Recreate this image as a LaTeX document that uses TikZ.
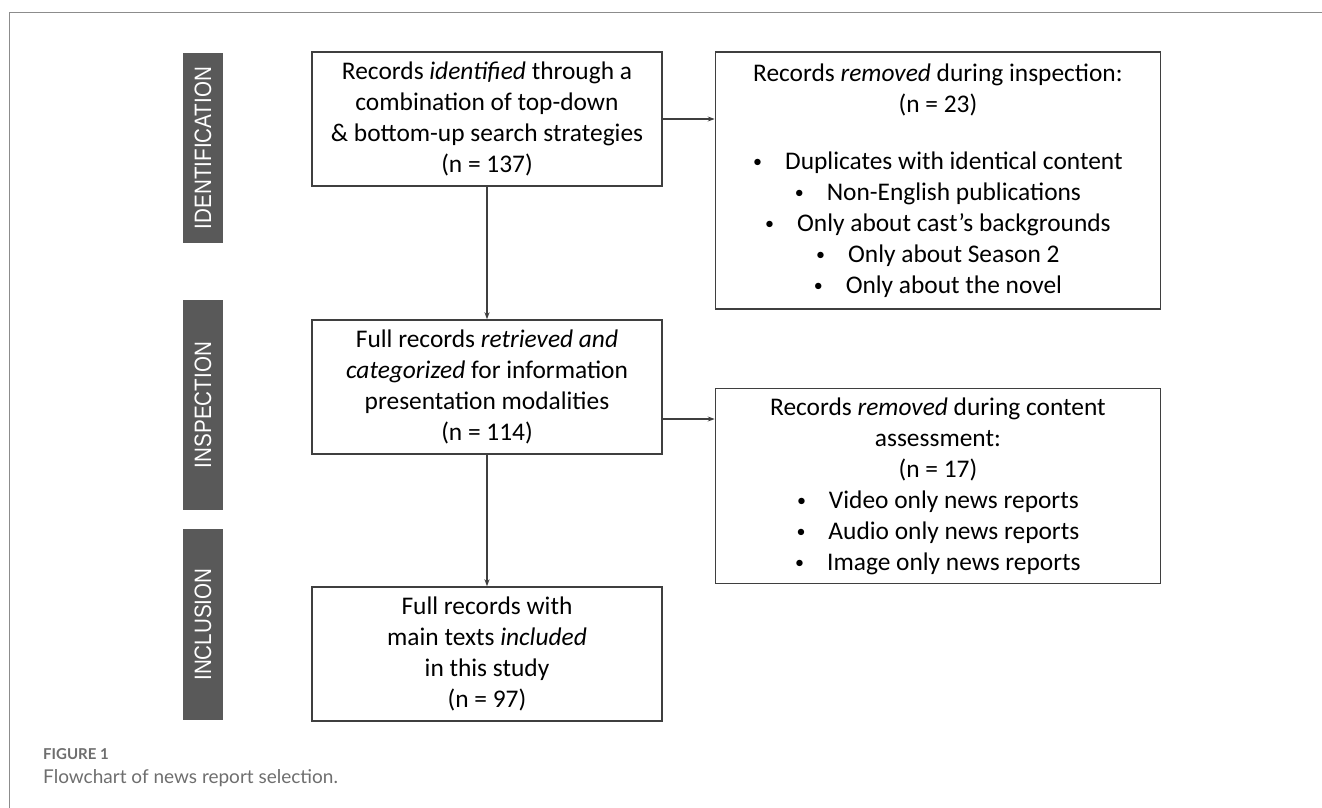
\documentclass[tikz,border=0pt]{standalone}
\usepackage{fontspec}
\setmainfont{Carlito}
\newfontfamily\barfont[FakeStretch=0.87]{Liberation Sans}
\newfontfamily\capfont{Lato}
\usepackage{tikz}
\usetikzlibrary{arrows.meta,positioning,calc}
\definecolor{bargray}{HTML}{595959}
\definecolor{linegray}{HTML}{3F3F3F}
\definecolor{framegray}{HTML}{8C8C8C}
\definecolor{captgray}{HTML}{6E6E6E}
\newcommand{\bul}{\raisebox{1.5pt}{\fontsize{18}{18}\selectfont\textbullet}\hspace{23pt}}

\begin{document}
\begin{tikzpicture}[
  x=1pt, y=-1pt,
  arr/.style={-{Stealth[length=7pt,width=5pt]}, line width=1.2pt, draw=linegray},
  box/.style={draw=linegray, line width=1.4pt, align=center, inner sep=0pt,
    font=\fontsize{25.4}{31}\selectfont},
  mainbox/.style={box, minimum width=350pt, minimum height=134pt},
  sidebox/.style={box, minimum width=445pt},
  phase/.style={fill=bargray, text=white, rotate=90, minimum width=#1,
    minimum height=40pt, inner sep=0pt, font=\barfont\fontsize{23.7}{23.7}\selectfont},
  captext/.style={anchor=base west, inner sep=0pt, text=captgray}
]
\useasboundingbox (0,0) rectangle (1322,808);

% ===== FRAME =====
\draw[framegray, line width=1pt] (9,808) -- (9,13) -- (1322,13);

% ===== PHASES =====
\node[phase=190pt] (bar_ident) at (203,148) {IDENTIFICATION};
\node[phase=210pt] (bar_insp) at (203,405) {INSPECTION};
\node[phase=191pt] (bar_incl) at (203,624.5) {INCLUSION};

% ===== MAIN COLUMN =====
\node[mainbox] (ident) at (487,119) {Records \textit{identified} through a\\combination of top-down\\\& bottom-up search strategies\\(n = 137)};
\node[mainbox] (inspect) at (487,387) {Full records \textit{retrieved and}\\\textit{categorized} for information\\presentation modalities\\(n = 114)};
\node[mainbox] (incl) at (487,654) {Full records with\\main texts \textit{included}\\in this study\\(n = 97)};

% ===== REMOVED RECORDS =====
\node[sidebox, minimum height=257pt, right=52pt of ident.north east, anchor=north west] (removed1)
  {Records \textit{removed} during inspection:\\(n = 23)\\[26pt]
   \bul Duplicates with identical content\\
   \bul Non-English publications\\
   \bul Only about cast's backgrounds\\
   \bul Only about Season 2\\
   \bul Only about the novel};
\node[sidebox, minimum height=195pt, below=78pt of removed1.south west, anchor=north west] (removed2)
  {Records \textit{removed} during content\\assessment:\\(n = 17)\\
   \bul Video only news reports\\
   \bul Audio only news reports\\
   \bul Image only news reports};

\coordinate (insp_out) at ($(inspect.east)+(0,32)$);

\draw[arr] (ident.east) -- (ident.east -| removed1.west);
\draw[arr] (insp_out) -- (insp_out -| removed2.west);
\draw[arr] (ident) -- (inspect);
\draw[arr] (inspect) -- (incl);

% ===== CAPTION =====
\node[captext, font=\capfont\bfseries\fontsize{15}{15}\selectfont] (fig_no) at (43,759) {FIGURE 1};
\node[captext, font=\capfont\fontsize{19}{19}\selectfont] (fig_text) at (43,783) {Flowchart of news report selection.};

\end{tikzpicture}
\end{document}
